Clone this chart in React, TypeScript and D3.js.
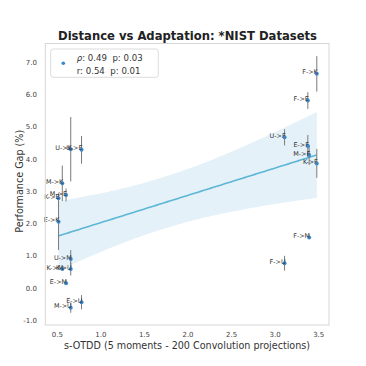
import React from "react";
import * as d3 from "d3";

// ---- data ----
const pairs = [
  "U->K", "U->E", "M->K", "M->E", "K->E", "E->K", "U->M", "K->M", "K->U", "E->M", "E->U", "M->U",
  "F->K", "F->E", "U->F", "E->F", "M->F", "K->F", "F->M", "F->U",
];
const distances = [
  0.654, 0.778, 0.557, 0.6, 0.514, 0.514, 0.654, 0.557, 0.654, 0.6, 0.778, 0.654,
  3.478, 3.375, 3.108, 3.375, 3.39, 3.478, 3.39, 3.108,
];
const gaps = [
  4.31, 4.29, 3.25, 2.89, 2.79, 2.06, 0.9, 0.59, 0.59, 0.15, -0.44, -0.61,
  6.65, 5.82, 4.68, 4.41, 4.13, 3.87, 1.57, 0.77,
];
const gapErrors = [
  1.0, 0.43, 0.55, 0.2, 0.05, 0.88, 0.28, 0.05, 0.2, 0.05, 0.22, 0.16,
  0.55, 0.26, 0.25, 0.34, 0.31, 0.45, 0.04, 0.23,
];
const xTicks = [0.5, 1.0, 1.5, 2.0, 2.5, 3.0, 3.5];
const yTicks = [-1.0, 0.0, 1.0, 2.0, 3.0, 4.0, 5.0, 6.0, 7.0];
const legendLines = ["0.49", "0.03", "0.54", "0.01"];

const W = 366;
const H = 366;
const frame = { left: 45.3, right: 329, top: 43.5, bottom: 325 };

export default function App() {
  const x = d3.scaleLinear().domain([0.362, 3.618]).range([frame.left, frame.right]);
  const y = d3.scaleLinear().domain([-1.149, 7.593]).range([frame.bottom, frame.top]);

  // OLS regression + confidence band
  const n = distances.length;
  const mx = d3.mean(distances) as number;
  const my = d3.mean(gaps) as number;
  let sxx = 0, sxy = 0;
  for (let i = 0; i < n; i++) {
    sxx += (distances[i] - mx) ** 2;
    sxy += (distances[i] - mx) * (gaps[i] - my);
  }
  const slope = sxy / sxx;
  const icpt = my - slope * mx;
  let sse = 0;
  for (let i = 0; i < n; i++) sse += (gaps[i] - (icpt + slope * distances[i])) ** 2;
  const s = Math.sqrt(sse / (n - 2));
  const [xmin, xmax] = d3.extent(distances) as [number, number];
  const grid = d3.range(0, 101).map((k) => xmin + ((xmax - xmin) * k) / 100);
  const band = grid.map((xv) => {
    const yh = icpt + slope * xv;
    const se = s * Math.sqrt(1 / n + (xv - mx) ** 2 / sxx);
    return { xv, yh, lo: yh - 1.96 * se, hi: yh + 1.96 * se };
  });
  const area = d3
    .area<any>()
    .x((d) => x(d.xv))
    .y0((d) => y(d.lo))
    .y1((d) => y(d.hi));
  const line = d3
    .line<any>()
    .x((d) => x(d.xv))
    .y((d) => y(d.yh));

  const font = "DejaVu Sans, sans-serif";

  return (
    <svg width={W} height={H} style={{ position: "absolute", left: 0, top: 0, fontFamily: font }}>
      <rect x={0} y={0} width={W} height={H} fill="#fff" />
      <text x={187.5} y={39.5} textAnchor="middle" fontSize={11.6} fontWeight="bold" fill="#222">
        Distance vs Adaptation: *NIST Datasets
      </text>
      <path d={area(band) || ""} fill="#e4f1f8" />
      <path d={line(band) || ""} fill="none" stroke="#5cb6d6" strokeWidth={1.6} />
      {pairs.map((p, i) => (
        <line
          key={"e" + i}
          x1={x(distances[i])}
          x2={x(distances[i])}
          y1={y(gaps[i] - gapErrors[i])}
          y2={y(gaps[i] + gapErrors[i])}
          stroke="#7a7a7a"
          strokeWidth={1}
        />
      ))}
      {pairs.map((p, i) => (
        <circle key={"c" + i} cx={x(distances[i])} cy={y(gaps[i])} r={2} fill="#3b88c7" />
      ))}
      {pairs.map((p, i) => (
        <text
          key={"t" + i}
          x={x(distances[i]) + 1}
          y={y(gaps[i]) + 0.6}
          textAnchor="end"
          fontSize={6.4}
          fill="#333"
        >
          {p}
        </text>
      ))}
      <rect
        x={frame.left}
        y={frame.top}
        width={frame.right - frame.left}
        height={frame.bottom - frame.top}
        fill="none"
        stroke="#d6d6d6"
        strokeWidth={1}
      />
      {xTicks.map((t) => (
        <text key={"xt" + t} x={x(t)} y={337} textAnchor="middle" fontSize={7} fill="#444">
          {t.toFixed(1)}
        </text>
      ))}
      {yTicks.map((t) => (
        <text key={"yt" + t} x={37} y={y(t) + 2.5} textAnchor="end" fontSize={7} fill="#444">
          {t.toFixed(1)}
        </text>
      ))}
      <text x={187} y={348.5} textAnchor="middle" fontSize={9.6} fill="#333">
        s-OTDD (5 moments - 200 Convolution projections)
      </text>
      <text
        transform={`translate(22.5,${(frame.top + frame.bottom) / 2 - 3}) rotate(-90)`}
        textAnchor="middle"
        fontSize={9.6}
        fill="#333"
      >
        Performance Gap (%)
      </text>
      <rect x={50.7} y={49} width={107.6} height={28.3} rx={2.5} fill="#fff" stroke="#dcdcdc" strokeWidth={1} />
      <circle cx={63.3} cy={63.3} r={1.8} fill="#3b88c7" />
      <text x={76.7} y={60.5} fontSize={8.6} fill="#333" style={{ whiteSpace: "pre" }}>
        <tspan fontStyle="italic">ρ</tspan>
        {`: ${legendLines[0]}  p: ${legendLines[1]}`}
      </text>
      <text x={76.7} y={73.5} fontSize={8.6} fill="#333" style={{ whiteSpace: "pre" }}>
        {`r: ${legendLines[2]}  p: ${legendLines[3]}`}
      </text>
    </svg>
  );
}
